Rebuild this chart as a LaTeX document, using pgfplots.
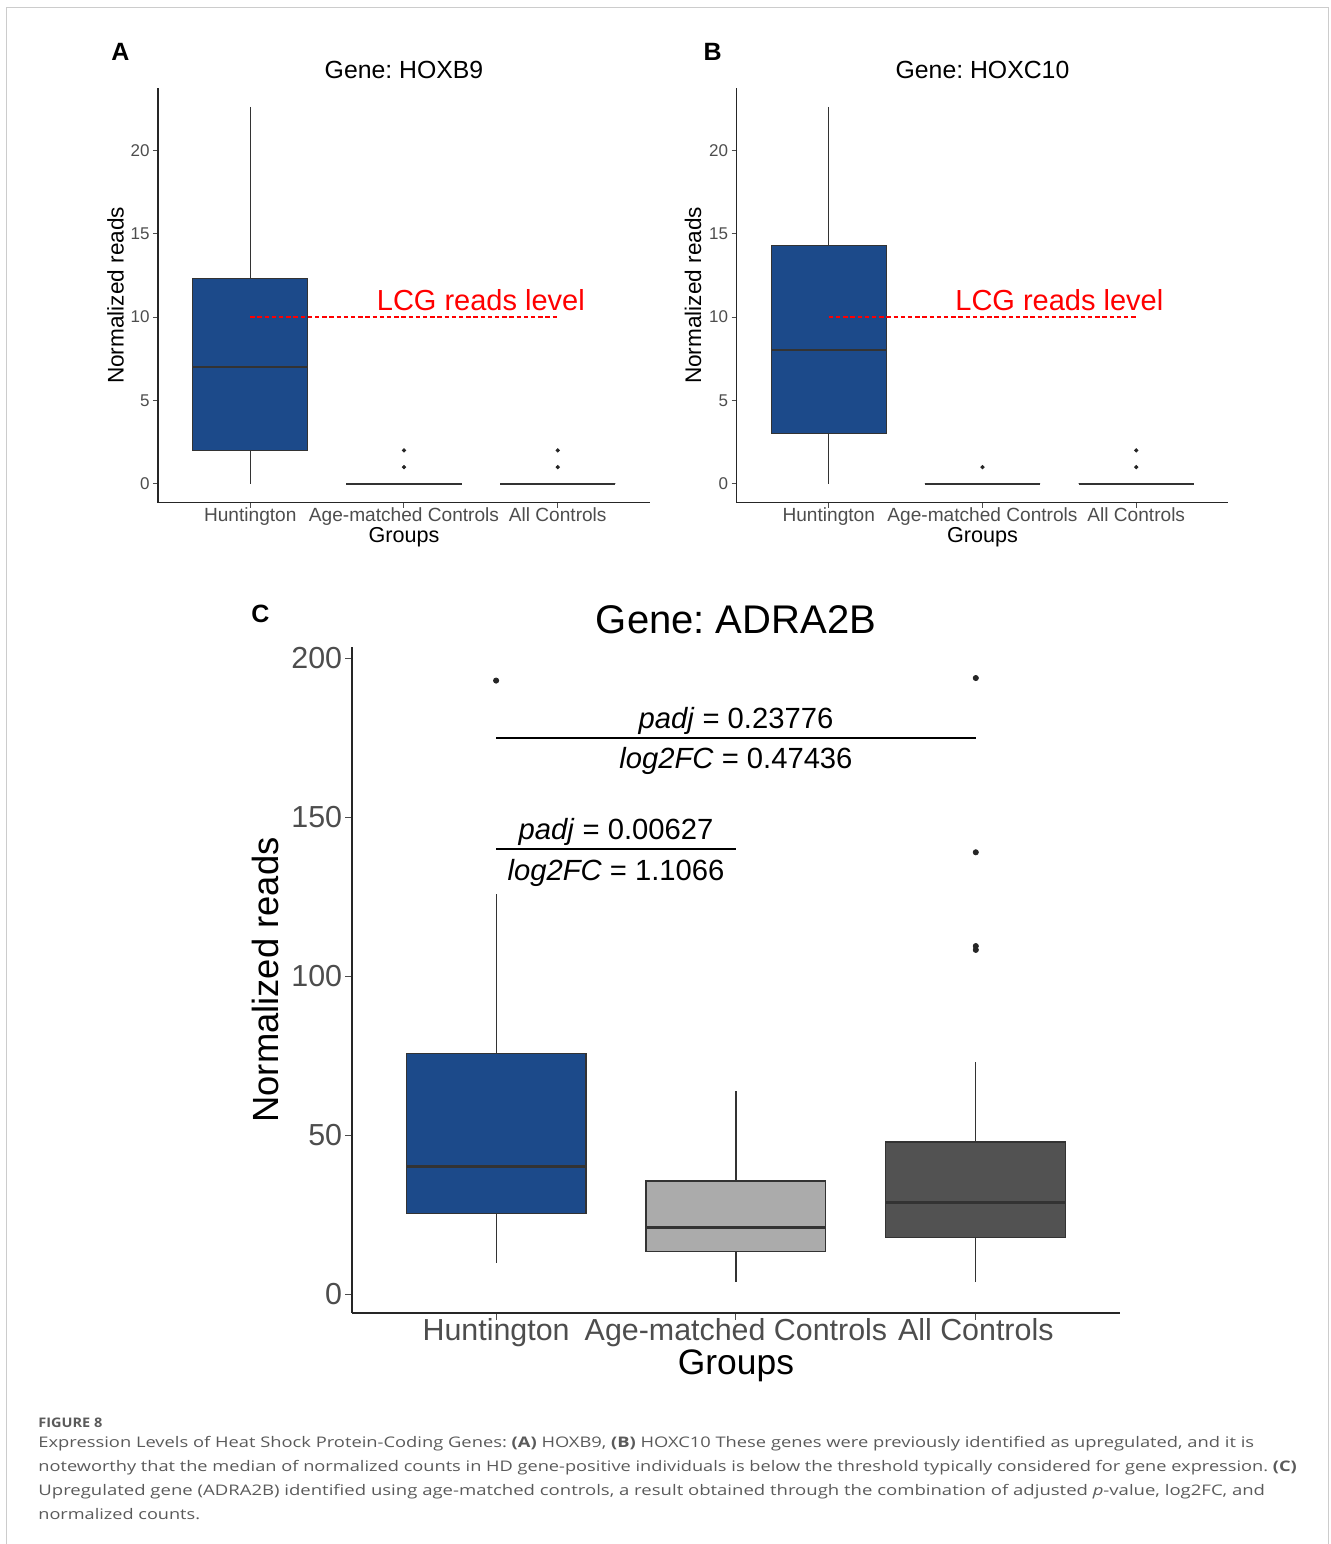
\documentclass[border=0pt]{standalone}
\usepackage{fontspec}
\setmainfont{Liberation Sans}
\newfontfamily\capfont{Open Sans}
\usepackage{graphicx}
\usepackage{pgfplots}
\pgfplotsset{compat=1.18}
\usepgfplotslibrary{statistics}
\frenchspacing

\definecolor{hdblue}{RGB}{28,74,138}
\definecolor{lgray}{RGB}{171,171,171}
\definecolor{dgray}{RGB}{82,82,82}
\definecolor{boxline}{RGB}{51,51,51}
\definecolor{tickgray}{RGB}{77,77,77}
\definecolor{capgray}{RGB}{90,90,90}
\definecolor{framegray}{RGB}{204,204,204}
\definecolor{lcgred}{RGB}{255,0,0}

\newcommand\fs[1]{\fontsize{#1}{#1}\selectfont}
\newlength\tmpw
\newcommand\fitline[2]{\settowidth\tmpw{#2}\pgfmathsetmacro\sfac{#1/\tmpw}\scalebox{\sfac}[1]{#2}}

\pgfplotsset{
  ggbase/.style={
    scale only axis,
    axis x line*=bottom, axis y line*=left,
    axis line style={-, black!85, line width=0.7pt},
    tick align=outside,
    major tick length=2.5pt,
    tick style={tickgray, line width=0.5pt},
    xmin=0.4, xmax=3.6,
    xtick={1,2,3},
    xticklabels={Huntington, Age-matched Controls, All Controls},
    /pgf/number format/assume math mode=true,
    clip=false,
    ticklabel style={text=tickgray},
  },
  bxs/.style={draw=boxline, line width=0.5pt, boxplot/draw direction=y, boxplot/box extend=0.75, boxplot/whisker extend=0,
    boxplot/every median/.style={line width=1pt}},
  bxl/.style={draw=boxline, line width=0.6pt, boxplot/draw direction=y, boxplot/box extend=0.75, boxplot/whisker extend=0,
    boxplot/every median/.style={line width=1.5pt}},
}

\begin{document}
\begin{tikzpicture}
\path[use as bounding box] (0,0) rectangle (665pt,772pt);
\draw[framegray, line width=0.6pt] (3.35pt,-2pt) -- (3.35pt,768.35pt) -- (664.35pt,768.35pt) -- (664.35pt,-2pt);

% ---------------- Panel A ----------------
\begin{axis}[ggbase, at={(79pt,520.65pt)}, anchor=south west,
  width=246pt, height=207.35pt,
  ymin=-1.13, ymax=23.73, ytick={0,5,10,15,20},
  title={Gene: HOXB9}, xlabel={Groups}, ylabel={Normalized reads},
  every axis title/.style={at={(axis description cs:0.5,1)}, anchor=base, yshift=4.85pt, font=\fs{12.4}},
  every axis x label/.style={at={(axis description cs:0.5,-0.0965)}, anchor=base, font=\fs{10.8}},
  every axis y label/.style={at={(axis description cs:-0.070,0.5)}, anchor=base, rotate=90, font=\fs{11.3}},
  xticklabel style={font=\fs{9.55}, yshift=3.3pt},
  yticklabel style={font=\fs{8.5}, xshift=1.8pt},
]
\addplot[bxs, fill=hdblue, boxplot prepared={draw position=1, lower whisker=0, lower quartile=2, median=7, upper quartile=12.3, upper whisker=22.6}] coordinates {};
\addplot[bxs, fill=white, boxplot prepared={draw position=2, lower whisker=0, lower quartile=0, median=0, upper quartile=0, upper whisker=0}] coordinates {};
\addplot[bxs, fill=white, boxplot prepared={draw position=3, lower whisker=0, lower quartile=0, median=0, upper quartile=0, upper whisker=0}] coordinates {};
\addplot[only marks, mark=*, mark size=0.85pt, black!85] coordinates {(2,1) (2,2) (3,1) (3,2)};
\addplot[color=lcgred, line width=0.6pt, dash pattern=on 2.2pt off 1.4pt] coordinates {(1,10) (3,10)};
\node[text=lcgred, anchor=base, font=\fs{14.5}] at (axis cs:2.5,10.42) {LCG reads level};
\end{axis}

% ---------------- Panel B ----------------
\begin{axis}[ggbase, at={(368.25pt,520.65pt)}, anchor=south west,
  width=246pt, height=207.35pt,
  ymin=-1.13, ymax=23.73, ytick={0,5,10,15,20},
  title={Gene: HOXC10}, xlabel={Groups}, ylabel={Normalized reads},
  every axis title/.style={at={(axis description cs:0.5,1)}, anchor=base, yshift=4.85pt, font=\fs{12.4}},
  every axis x label/.style={at={(axis description cs:0.5,-0.0965)}, anchor=base, font=\fs{10.8}},
  every axis y label/.style={at={(axis description cs:-0.072,0.5)}, anchor=base, rotate=90, font=\fs{11.3}},
  xticklabel style={font=\fs{9.55}, yshift=3.3pt},
  yticklabel style={font=\fs{8.5}, xshift=1.8pt},
]
\addplot[bxs, fill=hdblue, boxplot prepared={draw position=1, lower whisker=0, lower quartile=3, median=8, upper quartile=14.3, upper whisker=22.6}] coordinates {};
\addplot[bxs, fill=white, boxplot prepared={draw position=2, lower whisker=0, lower quartile=0, median=0, upper quartile=0, upper whisker=0}] coordinates {};
\addplot[bxs, fill=white, boxplot prepared={draw position=3, lower whisker=0, lower quartile=0, median=0, upper quartile=0, upper whisker=0}] coordinates {};
\addplot[only marks, mark=*, mark size=0.85pt, black!85] coordinates {(2,1) (3,1) (3,2)};
\addplot[color=lcgred, line width=0.6pt, dash pattern=on 2.2pt off 1.4pt] coordinates {(1,10) (3,10)};
\node[text=lcgred, anchor=base, font=\fs{14.5}] at (axis cs:2.5,10.42) {LCG reads level};
\end{axis}

% ---------------- Panel C ----------------
\begin{axis}[ggbase, at={(176.1pt,115.65pt)}, anchor=south west,
  width=383.75pt, height=332.75pt,
  axis line style={-, black!85, line width=0.9pt},
  major tick length=3.5pt,
  ymin=-5.8, ymax=203.5, ytick={0,50,100,150,200},
  title={Gene: ADRA2B}, xlabel={Groups}, ylabel={Normalized reads},
  every axis title/.style={at={(axis description cs:0.5,1)}, anchor=base, yshift=6.6pt, font=\fs{20}},
  every axis x label/.style={at={(axis description cs:0.5,-0.0935)}, anchor=base, font=\fs{17.7}},
  every axis y label/.style={at={(axis description cs:-0.0964,0.5)}, anchor=base, rotate=90, font=\fs{18.2}},
  xticklabel style={font=\fs{15.2}, yshift=4pt},
  yticklabel style={font=\fs{15.2}, xshift=2pt},
]
\addplot[bxl, fill=hdblue, boxplot prepared={draw position=1, lower whisker=9.9, lower quartile=25.3, median=40.3, upper quartile=75.6, upper whisker=125.8}] coordinates {};
\addplot[bxl, fill=lgray, boxplot prepared={draw position=2, lower whisker=3.8, lower quartile=13.4, median=20.9, upper quartile=35.6, upper whisker=63.9}] coordinates {};
\addplot[bxl, fill=dgray, boxplot prepared={draw position=3, lower whisker=3.8, lower quartile=17.8, median=28.8, upper quartile=47.9, upper whisker=73.0}] coordinates {};
\addplot[only marks, mark=*, mark size=1.3pt, black!85] coordinates {(1,193.0) (3,193.8) (3,139.0) (3,109.5) (3,108.3)};
\addplot[black, line width=1pt] coordinates {(1,175) (3,175)};
\addplot[black, line width=1pt] coordinates {(1,140) (2,140)};
\node[anchor=base, font=\fs{14.6}] at (axis cs:2,178.0) {\textit{padj} = 0.23776};
\node[anchor=base, font=\fs{14.6}] at (axis cs:2,165.4) {\textit{log2FC} = 0.47436};
\node[anchor=base, font=\fs{14.6}] at (axis cs:1.5,142.9) {\textit{padj} = 0.00627};
\node[anchor=base, font=\fs{14.6}] at (axis cs:1.5,130.1) {\textit{log2FC} = 1.1066};
\end{axis}

% panel letters
\node[anchor=base west, inner sep=0pt, font=\fs{12.5}\bfseries] at (55.5pt,741.65pt) {A};
\node[anchor=base west, inner sep=0pt, font=\fs{12.5}\bfseries] at (351.6pt,741.65pt) {B};
\node[anchor=base west, inner sep=0pt, font=\fs{12.5}\bfseries] at (125.5pt,460.5pt) {C};

% caption
\node[anchor=base west, inner sep=0pt, text=capgray, font=\capfont\fs{6.6}\bfseries] at (19pt,58.15pt) {\fitline{32pt}{FIGURE 8}};
\node[anchor=base west, inner sep=0pt, text=capgray, font=\capfont\fs{7.3}] at (19pt,48.15pt) {\fitline{607.85pt}{Expression Levels of Heat Shock Protein-Coding Genes: \textbf{(A)} HOXB9, \textbf{(B)} HOXC10 These genes were previously identified as upregulated, and it is}};
\node[anchor=base west, inner sep=0pt, text=capgray, font=\capfont\fs{7.3}] at (19pt,36.15pt) {\fitline{629.2pt}{noteworthy that the median of normalized counts in HD gene-positive individuals is below the threshold typically considered for gene expression. \textbf{(C)}}};
\node[anchor=base west, inner sep=0pt, text=capgray, font=\capfont\fs{7.3}] at (19pt,24.15pt) {\fitline{613.35pt}{Upregulated gene (ADRA2B) identified using age-matched controls, a result obtained through the combination of adjusted \textit{p}-value, log2FC, and}};
\node[anchor=base west, inner sep=0pt, text=capgray, font=\capfont\fs{7.3}] at (19pt,12.15pt) {\fitline{80.85pt}{normalized counts.}};
\end{tikzpicture}
\end{document}
